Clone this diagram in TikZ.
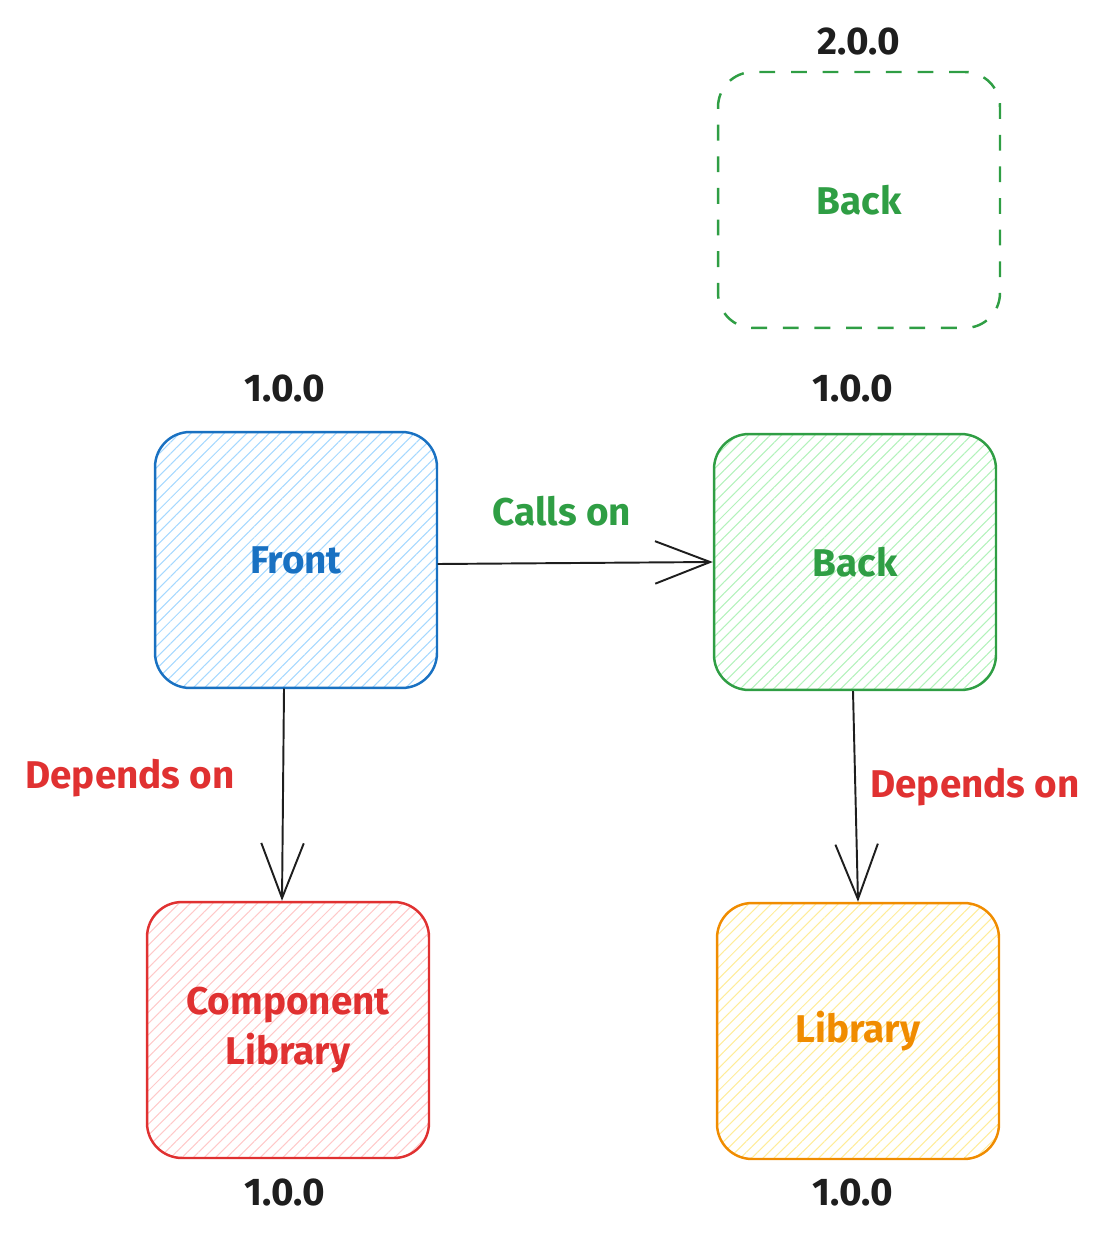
\documentclass[tikz,border=0pt]{standalone}
\usepackage{fontspec}
\setmainfont{Fira Sans}
\usetikzlibrary{arrows.meta,patterns.meta}
\definecolor{ink}{HTML}{1E1E1E}
\definecolor{bluedraw}{HTML}{1971C2}
\definecolor{bluefill}{HTML}{A5D8FF}
\definecolor{greendraw}{HTML}{2F9E44}
\definecolor{greenfill}{HTML}{B2F2BB}
\definecolor{reddraw}{HTML}{E03131}
\definecolor{redfill}{HTML}{FFC9C9}
\definecolor{orangedraw}{HTML}{F08C00}
\definecolor{orangefill}{HTML}{FFEC99}
\tikzset{
  box/.style={draw=#1, text=#1, line width=1.4pt, rounded corners=0.7cm,
    minimum width=5.64cm, minimum height=5.12cm, align=center,
    font=\fontsize{22}{28}\selectfont\bfseries},
  hatch/.style={pattern={Lines[angle=45,distance=4.5pt,line width=0.6pt]}, pattern color=#1},
  version/.style={text=ink, font=\fontsize{22}{26}\selectfont\bfseries},
  note/.style={text=#1, font=\fontsize{22}{26}\selectfont\bfseries},
  link/.style={draw=ink, line width=1.1pt, -{Straight Barb[length=1.1cm,width=0.85cm,line width=1.1pt]}}
}
\begin{document}
\begin{tikzpicture}[x=0.02cm, y=-0.02cm]
    \useasboundingbox (0,0) rectangle (1104,1239);
    % Boxes
    \node[box=bluedraw, hatch=bluefill] (front) at (296,560) {Front};
    \node[box=greendraw, hatch=greenfill] (back) at (855,562) {Back};
    \node[box=greendraw, dashed, dash pattern=on 9pt off 9pt] (backnext) at (859,200) {Back};
    \node[box=reddraw, hatch=redfill] (complib) at (288,1030) {Component\\Library};
    \node[box=orangedraw, hatch=orangefill] (lib) at (858,1031) {Library};
    % Versions
    \node[version] (vbacknext) at (859,42) {2.0.0};
    \node[version] (vfront) at (285,388) {1.0.0};
    \node[version] (vback) at (853,388) {1.0.0};
    \node[version] (vcomplib) at (285,1192) {1.0.0};
    \node[version] (vlib) at (853,1192) {1.0.0};
    % Arrow labels
    \node[note=greendraw] (calls) at (562,511) {Calls on};
    \node[note=reddraw] (dependsleft) at (130,778) {Depends on};
    \node[note=reddraw] (dependsright) at (975,787) {Depends on};
    % Arrows
    \draw[link] ([yshift=-0.08cm]front.east) -- (back.west);
    \draw[link] ([xshift=-0.24cm]front.south) -- ([xshift=-0.12cm]complib.north);
    \draw[link] ([xshift=-0.04cm]back.south) -- (lib.north);
\end{tikzpicture}
\end{document}
